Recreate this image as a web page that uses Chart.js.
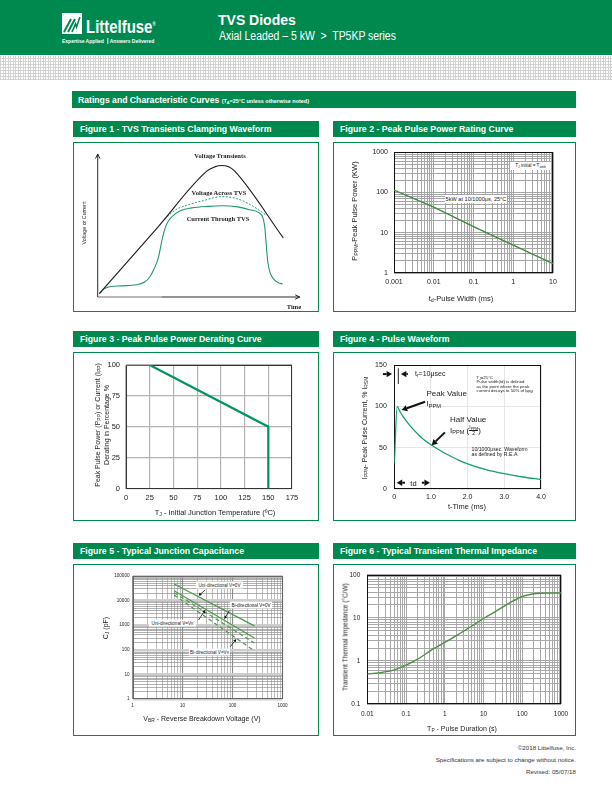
<!DOCTYPE html>
<html>
<head>
<meta charset="utf-8">
<title>TVS Diodes - TP5KP series</title>
<script src="https://cdn.jsdelivr.net/npm/chart.js@4.4.1/dist/chart.umd.min.js"></script>
<style>
  body { margin:0; width:612px; height:792px; position:relative; overflow:hidden; background:#fff;
         font-family:"Liberation Sans", Arial, sans-serif; color:#222; }
  .a { position:absolute; white-space:nowrap; }
  .c { transform:translate(-50%,-50%); }
  .r { transform:translate(-50%,-50%) rotate(-90deg); text-align:center; }
  .n { font-family:"Liberation Sans Narrow","Liberation Sans",Arial,sans-serif; }
  .sq { display:inline-block; transform:scaleX(var(--s, 0.9)); transform-origin:0 50%; white-space:nowrap; }
  .green { background:#00894f; }
  .fh { position:absolute; background:#00894f; color:#fff; font-weight:bold; font-size:9.5px; height:16px;
        line-height:16px; padding-left:7px; box-sizing:border-box; white-space:nowrap; }
  .panel { position:absolute; border:1.5px solid #00894f; box-sizing:border-box; }
  .dots { background-color:#fff; background-image:
          repeating-linear-gradient(90deg, #d2d2d2 0 1px, transparent 1px 2.5px),
          repeating-linear-gradient(0deg, #d2d2d2 0 1px, transparent 1px 3px); }
  canvas { position:absolute; }
  sub { font-size:70%; vertical-align:-0.3em; line-height:0; }
  .box { background:#fff; text-align:center; transform:translateY(-50%); }
  .serif { font-family:"Liberation Serif","DejaVu Serif",serif; font-weight:bold; }
  .frac { display:inline-block; vertical-align:middle; text-align:center; font-size:5px; line-height:5px; }
  .frac span { display:block; }
  .frac span:first-child { border-bottom:0.6px solid #222; }
</style>
</head>
<body>

<!-- page header -->
<div class="a green" style="left:0;top:0;width:612px;height:55px"></div>
<svg class="a" style="left:62px;top:13px" width="20" height="21" viewBox="0 0 20 21">
  <rect x="0" y="0" width="20" height="21" fill="#fff"/>
  <path d="M2 19 L9 6 M6 19 L13 6" stroke="#00894f" stroke-width="2" fill="none"/>
  <path d="M10 19 L13.5 11 L14.5 14 L18 4" stroke="#00894f" stroke-width="1.6" fill="none"/>
</svg>
<div class="a n" style="left:86px;top:13px;color:#fff;font-weight:bold;font-size:18px;line-height:22px"><span class="sq" style="--s:0.83">Littelfuse<sup style="font-size:5px">®</sup></span></div>
<div class="a n" style="left:62px;top:38px;color:#fff;font-weight:bold;font-size:5.6px;line-height:7px"><span class="sq" style="--s:0.89">Expertise Applied <span style="border-left:0.8px solid #fff;margin:0 2px"></span> Answers Delivered</span></div>
<div class="a" style="left:218px;top:12px;color:#fff;font-weight:bold;font-size:14px;line-height:16px">TVS Diodes</div>
<div class="a n" style="left:219px;top:29px;color:#fff;font-size:12px;line-height:14px"><span class="sq" style="--s:0.87">Axial Leaded – 5 kW &nbsp;&gt;&nbsp; TP5KP series</span></div>
<div class="a dots" style="left:0;top:56px;width:612px;height:24px"></div>
<div class="a green n" style="left:72px;top:91px;width:504px;height:17px;color:#fff;font-weight:bold;font-size:9.5px;line-height:17px;padding-left:6px;box-sizing:border-box"><span class="sq" style="--s:0.91">Ratings and Characteristic Curves <span style="font-size:6px">(T<sub>A</sub>=25°C unless otherwise noted)</span></span></div>

<!-- figure headers and frames -->
<div class="fh n" style="left:73px;top:121px;width:246px"><span class="sq" style="--s:0.92">Figure 1 - TVS Transients Clamping Waveform</span></div>
<div class="panel" style="left:73px;top:142px;width:246px;height:170px"></div>
<div class="fh n" style="left:333px;top:121px;width:243px"><span class="sq" style="--s:0.92">Figure 2 - Peak Pulse Power Rating Curve</span></div>
<div class="panel" style="left:333px;top:142px;width:243px;height:170px"></div>

<div class="fh n" style="left:73px;top:331px;width:246px"><span class="sq" style="--s:0.92">Figure 3 - Peak Pulse Power Derating Curve</span></div>
<div class="panel" style="left:73px;top:352px;width:246px;height:169px"></div>
<div class="fh n" style="left:333px;top:331px;width:243px"><span class="sq" style="--s:0.92">Figure 4 - Pulse Waveform</span></div>
<div class="panel" style="left:333px;top:352px;width:243px;height:169px"></div>

<div class="fh n" style="left:73px;top:543px;width:246px"><span class="sq" style="--s:0.92">Figure 5 - Typical Junction Capacitance</span></div>
<div class="panel" style="left:73px;top:564px;width:246px;height:172px"></div>
<div class="fh n" style="left:333px;top:543px;width:243px"><span class="sq" style="--s:0.92">Figure 6 - Typical Transient Thermal Impedance</span></div>
<div class="panel" style="left:333px;top:564px;width:243px;height:172px"></div>

<canvas id="fig1"></canvas>
<canvas id="fig2"></canvas>
<canvas id="fig3"></canvas>
<canvas id="fig4"></canvas>
<canvas id="fig5"></canvas>
<canvas id="fig6"></canvas>

<!-- figure 1 text -->
<div class="a c serif" style="left:220px;top:155px;font-size:6.5px">Voltage Transients</div>
<div class="a c serif" style="left:219px;top:192px;font-size:6.5px">Voltage Across TVS</div>
<div class="a c serif" style="left:218px;top:218px;font-size:6.5px">Current Through TVS</div>
<div class="a c serif" style="left:294px;top:305.5px;font-size:6.5px">Time</div>
<div class="a r" style="left:83.5px;top:223px;font-size:5.3px">Voltage or Current</div>

<!-- figure 2 text -->
<div class="a r" style="left:354px;top:211px;font-size:7.5px">P<sub>PPM</sub>-Peak Pulse Power (KW)</div>
<div class="a c" style="left:461px;top:298px;font-size:7.5px">t<sub>d</sub>-Pulse Width (ms)</div>
<div class="a box n" style="left:510px;top:165.5px;width:41px;height:8px;font-size:4.6px;line-height:8px">T<sub>J</sub> initial = T<sub>amb</sub></div>
<div class="a box n" style="left:445px;top:198.5px;width:62px;height:8px;font-size:5.6px;line-height:8px">5kW at 10/1000μs, 25°C</div>

<!-- figure 3 text -->
<div class="a r" style="left:102px;top:425px;font-size:7px;line-height:8.5px">Peak Pulse Power (P<sub>PP</sub>) or Current (I<sub>PP</sub>)<br>Derating in Percentage %</div>
<div class="a c" style="left:215px;top:512px;font-size:7.5px">T<sub>J</sub> - Initial Junction Temperature (ºC)</div>

<!-- figure 4 text -->
<div class="a r" style="left:364px;top:428px;font-size:7px">I<sub>PPM</sub>- Peak Pulse Current, % I<sub>RSM</sub></div>
<div class="a c" style="left:467px;top:505.5px;font-size:7.5px">t-Time (ms)</div>
<div class="a n" style="left:415px;top:370px;font-size:7px;line-height:8px">t<sub>r</sub>=10μsec</div>
<div class="a n" style="left:476.5px;top:376px;font-size:4.3px;line-height:4.3px">T<sub>J</sub>=25°C<br>Pulse width(td) is defined<br>as the point where the peak<br>current decays to 50% of I<sub>PPM</sub></div>
<div class="a n" style="left:426.5px;top:389px;font-size:8px;line-height:10px">Peak Value<br>I<sub>PPM</sub></div>
<div class="a n" style="left:450px;top:415px;font-size:8px;line-height:10px">Half Value<br>I<sub>PPM</sub> (<span class="frac"><span>I<sub>PPM</sub></span><span>2</span></span>)</div>
<div class="a n" style="left:471.5px;top:447px;font-size:5.2px;line-height:5px">10/1000μsec. Waveform<br>as defined by R.E.A</div>
<div class="a c n" style="left:413.5px;top:482.5px;font-size:7.5px">td</div>

<!-- figure 5 text -->
<div class="a r" style="left:105px;top:628px;font-size:7px">C<sub>J</sub> (pF)</div>
<div class="a c" style="left:202px;top:718px;font-size:7px">V<sub>BR</sub> - Reverse Breakdown Voltage (V)</div>
<div class="a box" style="left:196px;top:585px;width:47px;height:7px;font-size:4.6px;line-height:7px">Uni-directional V=0V</div>
<div class="a box" style="left:230px;top:604.5px;width:42px;height:7px;font-size:4.6px;line-height:7px">Bi-directional V=0V</div>
<div class="a box" style="left:149px;top:623px;width:47px;height:7px;font-size:4.6px;line-height:7px">Uni-directional V=V<sub>R</sub></div>
<div class="a box" style="left:189px;top:652px;width:41px;height:7px;font-size:4.6px;line-height:7px">Bi-directional V=V<sub>R</sub></div>

<!-- figure 6 text -->
<div class="a r" style="left:345px;top:637px;font-size:6.5px">Transient Thermal Impedance (°C/W)</div>
<div class="a c" style="left:462px;top:728px;font-size:7px">T<sub>P</sub> - Pulse Duration (s)</div>

<!-- footer -->
<div class="a n" style="right:36px;top:742px;font-size:6.2px;line-height:12px;text-align:right;color:#333">©2018 Littelfuse, Inc.<br>Specifications are subject to change without notice.<br>Revised: 05/07/18</div>

<script>
// ---- Figure 1: clamping waveform (schematic, relative units) ----
const transientTime = [0.8, 30, 55, 58.5, 62, 65.5, 68.5, 92.8];
const transientLevel = [2.3, 48.7, 88.5, 91, 92, 91, 88, 41.3];
const clampTime = [33.5, 39, 44.5, 52.8, 62, 69.5, 77.8, 84.5];
const clampLevel = [54.5, 61, 64.1, 67.4, 70.2, 68.8, 63.4, 57];
const currentTime = [0.8, 3, 6, 12, 19.5, 23.5, 26, 28, 30.3, 32.5, 34.5, 37, 41, 47, 55, 62, 70, 76, 80.5, 82.7, 83.6, 84.3, 85, 86.2, 88, 90.3, 92.5];
const currentLevel = [2.3, 5.5, 7.2, 7.8, 8.6, 10.5, 14, 19, 27.3, 42, 51, 56, 60.2, 62.3, 63.4, 63.8, 63, 61, 59, 55, 48, 36, 25, 17, 12.5, 10, 9.1];

// ---- Figure 2: peak pulse power vs pulse width ----
const pulseWidthMs = [0.001, 0.01, 0.1, 1, 10];
const peakPowerKw = [115, 43, 14.2, 4.9, 1.7];
const fig2XLabels = ['0.001', '0.01', '0.1', '1', '10'];
const fig2YLabels = ['1', '10', '100', '1000'];

// ---- Figure 3: derating ----
const junctionTemp = [0, 25, 150, 150];
const deratingPct = [100, 100, 50, 0];
const fig3XTicks = [0, 25, 50, 75, 100, 125, 150, 175];
const fig3YTicks = [0, 25, 50, 75, 100];

// ---- Figure 4: 10/1000us pulse waveform ----
const waveTimeMs = [0, 0.08, 0.15, 0.25, 0.35, 0.5, 0.65, 0.8, 1.0, 1.25, 1.5, 1.75, 2.0, 2.5, 3.0, 3.5, 4.0];
const wavePct = [31, 100, 94, 87, 81, 73, 66, 60, 53.5, 46.5, 40.5, 35, 30.5, 23.5, 18.5, 14.5, 11.5];
const fig4XTicks = [0, 1, 2, 3, 4];
const fig4XLabels = ['0', '1.0', '2.0', '3.0', '4.0'];
const fig4YTicks = [0, 50, 100, 150];

// ---- Figure 5: junction capacitance ----
const breakdownV = [6.8, 274];
const capUniZero = [47000, 940];
const capBiZero = [25000, 300];
const capUniVr = [21000, 190];
const capBiVr = [17000, 90];
const fig5XLabels = ['1', '10', '100', '1000'];
const fig5YLabels = ['1', '10', '100', '1000', '10000', '100000'];

// ---- Figure 6: transient thermal impedance ----
const pulseDurationS = [0.01, 0.02, 0.05, 0.1, 0.2, 0.5, 1, 2, 5, 10, 20, 50, 100, 200, 500, 1000];
const thermalImpedance = [0.5, 0.53, 0.62, 0.8, 1.1, 1.9, 2.7, 3.9, 6.5, 9.7, 14, 23, 31.5, 36.5, 38, 38];
const fig6XLabels = ['0.01', '0.1', '1', '10', '100', '1000'];
const fig6YLabels = ['0.1', '1', '10', '100'];

Chart.defaults.font.family = '"Liberation Sans", Arial, sans-serif';
Chart.defaults.color = '#222';
Chart.defaults.animation = false;
Chart.defaults.responsive = false;
Chart.defaults.maintainAspectRatio = false;
Chart.defaults.events = [];
Chart.defaults.plugins.legend.display = false;
Chart.defaults.plugins.tooltip.enabled = false;
Chart.defaults.elements.point.radius = 0;

// canvas boxes (panel interiors) and wanted plot areas, page pixels
const fig1Box = { x: 73, y: 142, w: 246, h: 170 }, fig1Plot = { l: 97.7, t: 154, r: 299.7, b: 297 };
const fig2Box = { x: 333, y: 142, w: 243, h: 170 }, fig2Plot = { l: 394, t: 152, r: 553, b: 273 };
const fig3Box = { x: 73, y: 352, w: 246, h: 169 }, fig3Plot = { l: 126, t: 365, r: 292, b: 488.5 };
const fig4Box = { x: 333, y: 352, w: 243, h: 169 }, fig4Plot = { l: 394.3, t: 365, r: 541, b: 489 };
const fig5Box = { x: 73, y: 564, w: 246, h: 172 }, fig5Plot = { l: 132.5, t: 576, r: 282.5, b: 699 };
const fig6Box = { x: 333, y: 564, w: 243, h: 172 }, fig6Plot = { l: 367.3, t: 573.3, r: 561, b: 704 };

function mount(id, box) {
    const c = document.getElementById(id);
    c.width = box.w;
    c.height = box.h;
    Object.assign(c.style, { left: box.x + 'px', top: box.y + 'px', width: box.w + 'px', height: box.h + 'px' });
    return c;
}

// layout padding so the chart area lands on the wanted plot rectangle
function padFor(box, plot, yw, xh) {
    return {
        left: plot.l - box.x - yw,
        top: plot.t - box.y,
        right: box.x + box.w - plot.r,
        bottom: box.y + box.h - plot.b - xh,
    };
}

const pts = (xs, ys) => xs.map((x, i) => ({ x, y: ys[i] }));
const fixedTicks = values => scale => { scale.ticks = values.map(v => ({ value: v })); };
const listLabel = labels => (v, i) => labels[i];

// 1..9 x 10^n ticks, major on the decades
function decadeTicks(scale) {
    const lo = Math.round(Math.log10(scale.min)), hi = Math.round(Math.log10(scale.max));
    const t = [];
    for (let e = lo; e <= hi; e++) {
        for (let m = 1; m <= 9; m++) {
            if (e === hi && m > 1) break;
            t.push({ value: parseFloat((m * Math.pow(10, e)).toPrecision(3)), major: m === 1 });
        }
    }
    scale.ticks = t;
}
function decadeLabel(labels) {
    return function (v, i, ticks) {
        if (!ticks[i].major) return '';
        return labels[Math.round(Math.log10(v) - Math.log10(this.min))];
    };
}

function axis(o) {
    const horiz = o.pos === 'x';
    return {
        type: o.type || 'linear',
        min: o.min,
        max: o.max,
        afterFit: s => { if (horiz) s.height = o.size; else s.width = o.size; },
        afterBuildTicks: o.ticks,
        border: { display: false },
        grid: { drawTicks: false, color: o.grid, lineWidth: o.gridWidth || 1 },
        ticks: {
            autoSkip: false, maxRotation: 0, minRotation: 0, padding: o.pad,
            font: { size: o.font }, color: '#222', callback: o.label,
        },
    };
}

const framePlugin = {
    id: 'frame',
    beforeDatasetsDraw(chart, args, opts) {
        if (!opts.color) return;
        const { ctx, chartArea: a } = chart;
        ctx.save();
        ctx.strokeStyle = opts.color;
        ctx.lineWidth = opts.width || 1;
        ctx.strokeRect(Math.round(a.left) + 0.5, Math.round(a.top) + 0.5,
            Math.round(a.right - a.left) - 1, Math.round(a.bottom - a.top) - 1);
        ctx.restore();
    }
};

// annotation arrows given in data units
const arrowPlugin = {
    id: 'arrows',
    afterDatasetsDraw(chart, args, opts) {
        if (!opts.items) return;
        const { ctx, scales: { x, y } } = chart;
        ctx.save();
        ctx.strokeStyle = ctx.fillStyle = opts.color || '#111';
        opts.items.forEach(a => {
            const x1 = x.getPixelForValue(a.from[0]), y1 = y.getPixelForValue(a.from[1]);
            const x2 = x.getPixelForValue(a.to[0]), y2 = y.getPixelForValue(a.to[1]);
            const h = a.head !== undefined ? a.head : opts.head, hw = opts.headWidth;
            const ang = Math.atan2(y2 - y1, x2 - x1);
            const bx = x2 - h * Math.cos(ang), by = y2 - h * Math.sin(ang);
            ctx.lineWidth = a.width || opts.width;
            ctx.beginPath();
            ctx.moveTo(x1, y1);
            ctx.lineTo(h ? bx : x2, h ? by : y2);
            ctx.stroke();
            if (!h) return;
            ctx.beginPath();
            ctx.moveTo(x2, y2);
            ctx.lineTo(bx + hw * Math.sin(ang), by - hw * Math.cos(ang));
            ctx.lineTo(bx - hw * Math.sin(ang), by + hw * Math.cos(ang));
            ctx.closePath();
            ctx.fill();
        });
        ctx.restore();
    }
};
Chart.register(framePlugin, arrowPlugin);

// figure 1 axes with open arrow heads
const fig1Axes = {
    id: 'fig1Axes',
    beforeDatasetsDraw(chart) {
        const { ctx, scales: { x, y } } = chart;
        const x0 = x.getPixelForValue(0), y0 = y.getPixelForValue(0);
        const xg = x.getPixelForValue(32);
        const xe = x.getPixelForValue(x.max), ye = y.getPixelForValue(y.max);
        ctx.save();
        ctx.strokeStyle = '#b8b8b8';
        ctx.lineWidth = 2;
        ctx.beginPath(); ctx.moveTo(x0, y0); ctx.lineTo(xg, y0); ctx.stroke();
        ctx.strokeStyle = '#111';
        ctx.lineWidth = 0.9;
        ctx.beginPath();
        ctx.moveTo(x0, y0); ctx.lineTo(x0, ye);
        ctx.moveTo(x0 - 2.2, ye + 4.5); ctx.lineTo(x0, ye); ctx.lineTo(x0 + 2.2, ye + 4.5);
        ctx.moveTo(xg, y0); ctx.lineTo(xe, y0);
        ctx.moveTo(xe - 4.5, y0 - 2.2); ctx.lineTo(xe, y0); ctx.lineTo(xe - 4.5, y0 + 2.2);
        ctx.stroke();
        ctx.restore();
    }
};

new Chart(mount('fig1', fig1Box), {
    type: 'line',
    data: {
        datasets: [
            { data: pts(transientTime, transientLevel), borderColor: '#1a1a1a', borderWidth: 1.1, cubicInterpolationMode: 'monotone' },
            { data: pts(clampTime, clampLevel), borderColor: '#2a9a6c', borderWidth: 1, borderDash: [2, 1.5], cubicInterpolationMode: 'monotone' },
            { data: pts(currentTime, currentLevel), borderColor: '#1f9a6a', borderWidth: 1.1, cubicInterpolationMode: 'monotone' },
        ],
    },
    options: {
        layout: { padding: padFor(fig1Box, fig1Plot, 0, 0) },
        scales: {
            x: { type: 'linear', display: false, min: 0, max: 101 },
            y: { type: 'linear', display: false, min: 0, max: 100 },
        },
    },
    plugins: [fig1Axes],
});

new Chart(mount('fig2', fig2Box), {
    type: 'line',
    data: { datasets: [{ data: pts(pulseWidthMs, peakPowerKw), borderColor: '#3d8b3d', borderWidth: 1.4 }] },
    options: {
        layout: { padding: padFor(fig2Box, fig2Plot, 30, 20) },
        plugins: { frame: { color: '#111' } },
        scales: {
            x: axis({ pos: 'x', type: 'logarithmic', min: 0.001, max: 10, size: 20, pad: 5, font: 7,
                grid: '#a6a6a6', ticks: decadeTicks, label: decadeLabel(fig2XLabels) }),
            y: axis({ pos: 'y', type: 'logarithmic', min: 1, max: 1000, size: 30, pad: 6, font: 7,
                grid: '#a6a6a6', ticks: decadeTicks, label: decadeLabel(fig2YLabels) }),
        },
    },
});

new Chart(mount('fig3', fig3Box), {
    type: 'line',
    data: { datasets: [{ data: pts(junctionTemp, deratingPct), borderColor: '#00955a', borderWidth: 2.2 }] },
    options: {
        layout: { padding: padFor(fig3Box, fig3Plot, 20, 15) },
        plugins: { frame: { color: '#333' } },
        scales: {
            x: axis({ pos: 'x', min: 0, max: 175, size: 15, pad: 5, font: 7.5, grid: '#b4b4b4', gridWidth: 1.2,
                ticks: fixedTicks(fig3XTicks), label: listLabel(fig3XTicks) }),
            y: axis({ pos: 'y', min: 0, max: 100, size: 20, pad: 6, font: 7.5, grid: '#b4b4b4', gridWidth: 1.2,
                ticks: fixedTicks(fig3YTicks), label: listLabel(fig3YTicks) }),
        },
    },
});

new Chart(mount('fig4', fig4Box), {
    type: 'line',
    data: { datasets: [{ data: pts(waveTimeMs, wavePct), borderColor: '#16a06e', borderWidth: 1.3, cubicInterpolationMode: 'monotone' }] },
    options: {
        layout: { padding: padFor(fig4Box, fig4Plot, 20, 15) },
        plugins: {
            frame: { color: '#111' },
            arrows: {
                color: '#111', width: 2, head: 5.5, headWidth: 3.2,
                items: [
                    { from: [-0.31, 139], to: [-0.06, 139] },
                    { from: [0.37, 139], to: [0.18, 139] },
                    { from: [0.11, 146], to: [0.11, 127], head: 0, width: 0.9 },
                    { from: [0.84, 105.5], to: [0.2, 95.5] },
                    { from: [1.38, 68.5], to: [1.02, 53] },
                    { from: [0.29, 7.6], to: [0.065, 7.6] },
                    { from: [0.75, 7.6], to: [0.97, 7.6] },
                ],
            },
        },
        scales: {
            x: axis({ pos: 'x', min: 0, max: 4, size: 15, pad: 3.5, font: 7, grid: '#e6e6e6',
                ticks: fixedTicks(fig4XTicks), label: listLabel(fig4XLabels) }),
            y: axis({ pos: 'y', min: 0, max: 150, size: 20, pad: 7.5, font: 7, grid: '#e6e6e6',
                ticks: fixedTicks(fig4YTicks), label: listLabel(fig4YTicks) }),
        },
    },
});

const majorOr = (a, b) => ctx => (ctx.tick && ctx.tick.major ? a : b);
const fig5Line = (values, dash) => ({
    data: pts(breakdownV, values), borderColor: '#4b9a4b', borderWidth: 1.2, borderDash: dash,
});
new Chart(mount('fig5', fig5Box), {
    type: 'line',
    data: {
        datasets: [
            fig5Line(capUniZero, []),
            fig5Line(capBiZero, []),
            fig5Line(capUniVr, [4, 3]),
            fig5Line(capBiVr, [4, 3]),
        ],
    },
    options: {
        layout: { padding: padFor(fig5Box, fig5Plot, 20, 12) },
        plugins: {
            frame: { color: '#666' },
            arrows: {
                color: '#111', width: 0.8, head: 3, headWidth: 1.6,
                items: [
                    { from: [28.5, 27000], to: [21, 15800] },
                    { from: [86.5, 3880], to: [68.6, 1790] },
                    { from: [20.9, 1625], to: [28.5, 4150] },
                    { from: [90.5, 134], to: [119, 275] },
                ],
            },
        },
        scales: {
            x: axis({ pos: 'x', type: 'logarithmic', min: 1, max: 1000, size: 12, pad: 4, font: 4.6,
                grid: majorOr('#8c8c8c', '#a0a0a0'), gridWidth: majorOr(1.1, 0.7),
                ticks: decadeTicks, label: decadeLabel(fig5XLabels) }),
            y: axis({ pos: 'y', type: 'logarithmic', min: 1, max: 100000, size: 20, pad: 3, font: 4.6,
                grid: majorOr('#cdcdcd', '#8f8f8f'), gridWidth: majorOr(2.6, 0.7),
                ticks: decadeTicks, label: decadeLabel(fig5YLabels) }),
        },
    },
});

new Chart(mount('fig6', fig6Box), {
    type: 'line',
    data: { datasets: [{ data: pts(pulseDurationS, thermalImpedance), borderColor: '#4c9142', borderWidth: 1.4, cubicInterpolationMode: 'monotone' }] },
    options: {
        layout: { padding: padFor(fig6Box, fig6Plot, 25, 15) },
        plugins: { frame: { color: '#111' } },
        scales: {
            x: axis({ pos: 'x', type: 'logarithmic', min: 0.01, max: 1000, size: 15, pad: 6, font: 6.5,
                grid: '#a8a8a8', ticks: decadeTicks, label: decadeLabel(fig6XLabels) }),
            y: axis({ pos: 'y', type: 'logarithmic', min: 0.1, max: 100, size: 25, pad: 7, font: 6.5,
                grid: '#a8a8a8', ticks: decadeTicks, label: decadeLabel(fig6YLabels) }),
        },
    },
});
</script>
</body>
</html>
